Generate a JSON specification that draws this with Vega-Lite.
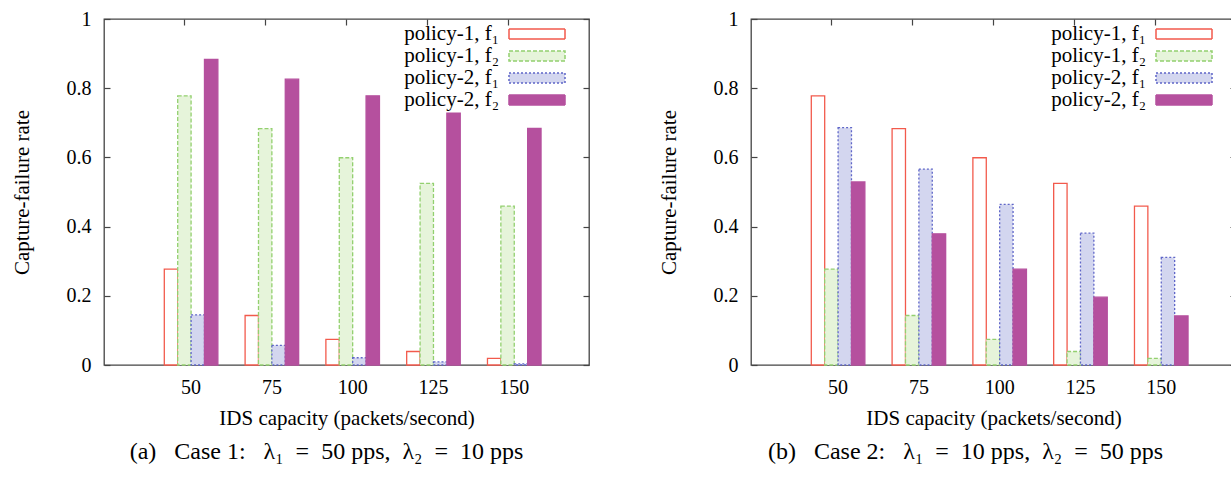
{
  "$schema": "https://vega.github.io/schema/vega-lite/v6.json",
  "padding": {"left": 10, "top": 8, "right": 0, "bottom": 0},
  "autosize": {"type": "pad"},
  "background": "white",
  "datasets": {
    "case1": [
      {"cap": 50, "series": "policy-1, f₁", "v": 0.277},
      {"cap": 75, "series": "policy-1, f₁", "v": 0.143},
      {"cap": 100, "series": "policy-1, f₁", "v": 0.074},
      {"cap": 125, "series": "policy-1, f₁", "v": 0.039},
      {"cap": 150, "series": "policy-1, f₁", "v": 0.019},
      {"cap": 50, "series": "policy-1, f₂", "v": 0.778},
      {"cap": 75, "series": "policy-1, f₂", "v": 0.683},
      {"cap": 100, "series": "policy-1, f₂", "v": 0.599},
      {"cap": 125, "series": "policy-1, f₂", "v": 0.525},
      {"cap": 150, "series": "policy-1, f₂", "v": 0.459},
      {"cap": 50, "series": "policy-2, f₁", "v": 0.145},
      {"cap": 75, "series": "policy-2, f₁", "v": 0.057},
      {"cap": 100, "series": "policy-2, f₁", "v": 0.021},
      {"cap": 125, "series": "policy-2, f₁", "v": 0.009},
      {"cap": 150, "series": "policy-2, f₁", "v": 0.003},
      {"cap": 50, "series": "policy-2, f₂", "v": 0.883},
      {"cap": 75, "series": "policy-2, f₂", "v": 0.826},
      {"cap": 100, "series": "policy-2, f₂", "v": 0.778},
      {"cap": 125, "series": "policy-2, f₂", "v": 0.728},
      {"cap": 150, "series": "policy-2, f₂", "v": 0.684}
    ],
    "case2": [
      {"cap": 50, "series": "policy-1, f₁", "v": 0.778},
      {"cap": 75, "series": "policy-1, f₁", "v": 0.683},
      {"cap": 100, "series": "policy-1, f₁", "v": 0.599},
      {"cap": 125, "series": "policy-1, f₁", "v": 0.525},
      {"cap": 150, "series": "policy-1, f₁", "v": 0.459},
      {"cap": 50, "series": "policy-1, f₂", "v": 0.277},
      {"cap": 75, "series": "policy-1, f₂", "v": 0.143},
      {"cap": 100, "series": "policy-1, f₂", "v": 0.074},
      {"cap": 125, "series": "policy-1, f₂", "v": 0.039},
      {"cap": 150, "series": "policy-1, f₂", "v": 0.019},
      {"cap": 50, "series": "policy-2, f₁", "v": 0.686},
      {"cap": 75, "series": "policy-2, f₁", "v": 0.566},
      {"cap": 100, "series": "policy-2, f₁", "v": 0.464},
      {"cap": 125, "series": "policy-2, f₁", "v": 0.381},
      {"cap": 150, "series": "policy-2, f₁", "v": 0.311},
      {"cap": 50, "series": "policy-2, f₂", "v": 0.529},
      {"cap": 75, "series": "policy-2, f₂", "v": 0.379},
      {"cap": 100, "series": "policy-2, f₂", "v": 0.277},
      {"cap": 125, "series": "policy-2, f₂", "v": 0.196},
      {"cap": 150, "series": "policy-2, f₂", "v": 0.142}
    ]
  },
  "config": {
    "font": "Liberation Serif",
    "view": {"stroke": "#444444", "strokeWidth": 1.3},
    "axis": {
      "labelFont": "Liberation Serif", "titleFont": "Liberation Serif",
      "labelFontSize": 20, "titleFontSize": 21,
      "labelColor": "black", "titleColor": "black", "titleFontWeight": "normal",
      "grid": false, "domain": false,
      "tickColor": "#444444", "tickSize": -6, "tickWidth": 1.2
    },
    "legend": {
      "orient": "none", "legendX": 422, "legendY": 4,
      "title": null, "padding": 0,
      "labelFont": "Liberation Serif", "labelFontSize": 21, "labelColor": "black",
      "labelAlign": "right", "labelOffset": -49,
      "symbolType": "M-2.8,-0.5H2.8V0.5H-2.8Z", "symbolSize": 400, "symbolStrokeWidth": 1.5,
      "rowPadding": 1
    },
    "title": {"font": "Liberation Serif", "fontSize": 24, "fontWeight": "normal", "color": "black"}
  },
  "spacing": 66,
  "hconcat": [
    {
      "width": 485, "height": 346,
      "data": {"name": "case1"},
      "title": {"text": "(a)\u00a0\u00a0 Case 1:\u00a0\u00a0 λ₁\u00a0 =\u00a0 50 pps,\u00a0 λ₂\u00a0 =\u00a0 10 pps", "orient": "bottom", "dx": -20, "offset": 12},
      "layer": [
        {
          "mark": {"type": "bar", "strokeWidth": 1.3},
          "encoding": {
            "x": {"field": "cap", "type": "ordinal", "scale": {"paddingInner": 0.337, "paddingOuter": 0.67, "align": 0.557},
                  "axis": {"title": "IDS capacity (packets/second)", "labelFont": "Liberation Serif", "titleFont": "Liberation Serif", "labelAngle": 0, "bandPosition": 0.386, "ticks": false, "labelPadding": 12, "titlePadding": 10}},
            "xOffset": {"field": "series", "type": "nominal", "scale": {"paddingInner": 0, "paddingOuter": 0}},
            "y": {"field": "v", "type": "quantitative", "scale": {"domain": [0, 1]},
                  "axis": {"title": "Capture-failure rate", "labelFont": "Liberation Serif", "titleFont": "Liberation Serif", "values": [0, 0.2, 0.4, 0.6, 0.8, 1], "format": "~g", "labelPadding": 19, "titlePadding": 34}},
            "fill": {"field": "series", "type": "nominal", "scale": {"domain": ["policy-1, f₁", "policy-1, f₂", "policy-2, f₁", "policy-2, f₂"], "range": ["#ffffff", "#e6f4da", "#d3d6ef", "#b5509e"]}},
            "stroke": {"field": "series", "type": "nominal", "scale": {"domain": ["policy-1, f₁", "policy-1, f₂", "policy-2, f₁", "policy-2, f₂"], "range": ["#f25a4c", "#93d06f", "#5f66c8", "#b5509e"]}},
            "strokeDash": {"field": "series", "type": "nominal", "scale": {"domain": ["policy-1, f₁", "policy-1, f₂", "policy-2, f₁", "policy-2, f₂"], "range": [[1, 0], [4, 2], [2, 2], [1, 0]]}}
          }
        },
        {
          "mark": {"type": "bar", "opacity": 0},
          "encoding": {
            "x": {"field": "cap", "type": "ordinal", "axis": {"orient": "top", "labels": false, "title": null, "bandPosition": 0.386}},
            "xOffset": {"field": "series", "type": "nominal"},
            "y": {"field": "v", "type": "quantitative", "axis": {"orient": "right", "labels": false, "title": null, "values": [0, 0.2, 0.4, 0.6, 0.8, 1]}}
          }
        }
      ],
      "resolve": {"axis": {"x": "independent", "y": "independent"}}
    },
    {
      "width": 485, "height": 346,
      "data": {"name": "case2"},
      "title": {"text": "(b)\u00a0\u00a0 Case 2:\u00a0\u00a0 λ₁\u00a0 =\u00a0 10 pps,\u00a0 λ₂\u00a0 =\u00a0 50 pps", "orient": "bottom", "dx": -28, "offset": 12},
      "layer": [
        {
          "mark": {"type": "bar", "strokeWidth": 1.3},
          "encoding": {
            "x": {"field": "cap", "type": "ordinal", "scale": {"paddingInner": 0.337, "paddingOuter": 0.67, "align": 0.557},
                  "axis": {"title": "IDS capacity (packets/second)", "labelFont": "Liberation Serif", "titleFont": "Liberation Serif", "labelAngle": 0, "bandPosition": 0.386, "ticks": false, "labelPadding": 12, "titlePadding": 10}},
            "xOffset": {"field": "series", "type": "nominal", "scale": {"paddingInner": 0, "paddingOuter": 0}},
            "y": {"field": "v", "type": "quantitative", "scale": {"domain": [0, 1]},
                  "axis": {"title": "Capture-failure rate", "labelFont": "Liberation Serif", "titleFont": "Liberation Serif", "values": [0, 0.2, 0.4, 0.6, 0.8, 1], "format": "~g", "labelPadding": 19, "titlePadding": 34}},
            "fill": {"field": "series", "type": "nominal", "scale": {"domain": ["policy-1, f₁", "policy-1, f₂", "policy-2, f₁", "policy-2, f₂"], "range": ["#ffffff", "#e6f4da", "#d3d6ef", "#b5509e"]}},
            "stroke": {"field": "series", "type": "nominal", "scale": {"domain": ["policy-1, f₁", "policy-1, f₂", "policy-2, f₁", "policy-2, f₂"], "range": ["#f25a4c", "#93d06f", "#5f66c8", "#b5509e"]}},
            "strokeDash": {"field": "series", "type": "nominal", "scale": {"domain": ["policy-1, f₁", "policy-1, f₂", "policy-2, f₁", "policy-2, f₂"], "range": [[1, 0], [4, 2], [2, 2], [1, 0]]}}
          }
        },
        {
          "mark": {"type": "bar", "opacity": 0},
          "encoding": {
            "x": {"field": "cap", "type": "ordinal", "axis": {"orient": "top", "labels": false, "title": null, "bandPosition": 0.386}},
            "xOffset": {"field": "series", "type": "nominal"},
            "y": {"field": "v", "type": "quantitative", "axis": {"orient": "right", "labels": false, "title": null, "values": [0, 0.2, 0.4, 0.6, 0.8, 1]}}
          }
        }
      ],
      "resolve": {"axis": {"x": "independent", "y": "independent"}}
    }
  ],
  "resolve": {"scale": {"fill": "independent", "stroke": "independent", "strokeDash": "independent"}, "legend": {"fill": "independent", "stroke": "independent", "strokeDash": "independent"}}
}
